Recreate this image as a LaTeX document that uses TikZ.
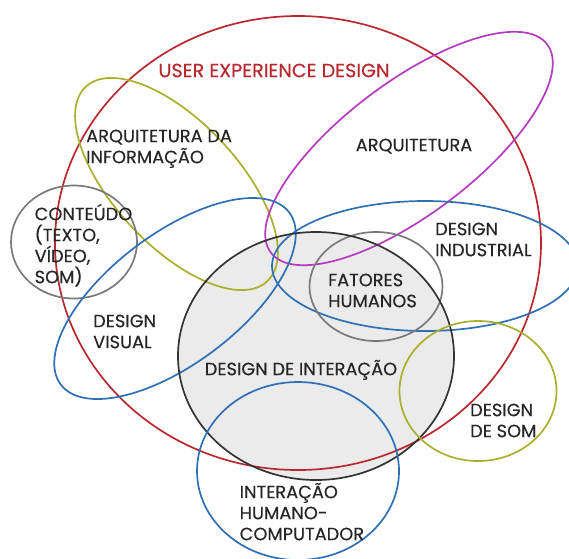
\documentclass[tikz,border=0pt]{standalone}
\usepackage{fontspec}
\setmainfont{Poppins}[FakeBold=0.35]
\newfontfamily\lblfont{Poppins}[FakeBold=0.35]
\usetikzlibrary{positioning}

\definecolor{uxred}{HTML}{B8282E}
\definecolor{olive}{HTML}{A9B02E}
\definecolor{magen}{HTML}{B43BBF}
\definecolor{azul}{HTML}{2F70B5}
\definecolor{cinza}{HTML}{7A7A7A}
\definecolor{escuro}{HTML}{333333}
\definecolor{fundo}{HTML}{EBEBEB}

\tikzset{
  ring/.style={line width=1.7pt},
  txt/.style={inner sep=0pt, align=left, text=black!85,
    font=\lblfont\fontsize{17.8}{21}\selectfont},
}

\begin{document}
\begin{tikzpicture}[x=1pt, y=-1pt]
\useasboundingbox (0,0) rectangle (569,558);
\clip (0,0) rectangle (569,558);

% design de interacao (filled first)
\fill[fundo] (316,356) ellipse [x radius=138, y radius=124];

% user experience design
\draw[ring, uxred] (298,243) ellipse [x radius=243, y radius=227];

% arquitetura da informacao
\draw[ring, olive, rotate around={-47:(176.5,184)}]
  (176.5,184) ellipse [x radius=133, y radius=62];

% arquitetura
\draw[ring, magen, rotate around={37:(409,148.5)}]
  (409,148.5) ellipse [x radius=173, y radius=66];

% conteudo
\draw[ring, cinza] (74,242) ellipse [x radius=63, y radius=56.5];

% design visual
\draw[ring, azul, rotate around={37:(175,298.5)}]
  (175,298.5) ellipse [x radius=143, y radius=65];

% design industrial
\draw[ring, azul] (425,266) ellipse [x radius=153, y radius=65];

% fatores humanos
\draw[ring, cinza] (376,286.5) ellipse [x radius=66.5, y radius=54.5];

% design de interacao (outline)
\draw[ring, escuro] (316,356) ellipse [x radius=138, y radius=124];

% interacao humano-computador
\draw[ring, azul] (298,471) ellipse [x radius=101, y radius=89];

% design de som
\draw[ring, olive] (478,391) ellipse [x radius=78.5, y radius=70];

% labels (base = baseline of the last line)
\node[txt, text=uxred, anchor=base, font=\lblfont\fontsize{19.2}{21}\selectfont]
  (ux) at (274,77.2) {USER EXPERIENCE DESIGN};
\node[txt, anchor=base west] (ai) at (86,163.2) {ARQUITETURA DA\\INFORMAÇÃO};
\node[txt, anchor=base] (arq) at (414,151.2) {ARQUITETURA};
\node[txt, anchor=base west] (cont) at (34.5,283.2) {CONTEÚDO\\(TEXTO,\\VÍDEO,\\SOM)};
\node[txt, anchor=base west] (ind) at (435,256.2) {DESIGN\\INDUSTRIAL};
\node[txt, anchor=base west] (fat) at (328,307.2) {FATORES\\HUMANOS};
\node[txt, anchor=base west] (vis) at (93,348.2) {DESIGN\\VISUAL};
\node[txt, anchor=base] (inter) at (301,375.2) {DESIGN DE INTERAÇÃO};
\node[txt, anchor=base west] (som) at (470,437.2) {DESIGN\\DE SOM};
\node[txt, anchor=base west] (ihc) at (239.5,540.2) {INTERAÇÃO\\HUMANO-\\COMPUTADOR};

\end{tikzpicture}
\end{document}
